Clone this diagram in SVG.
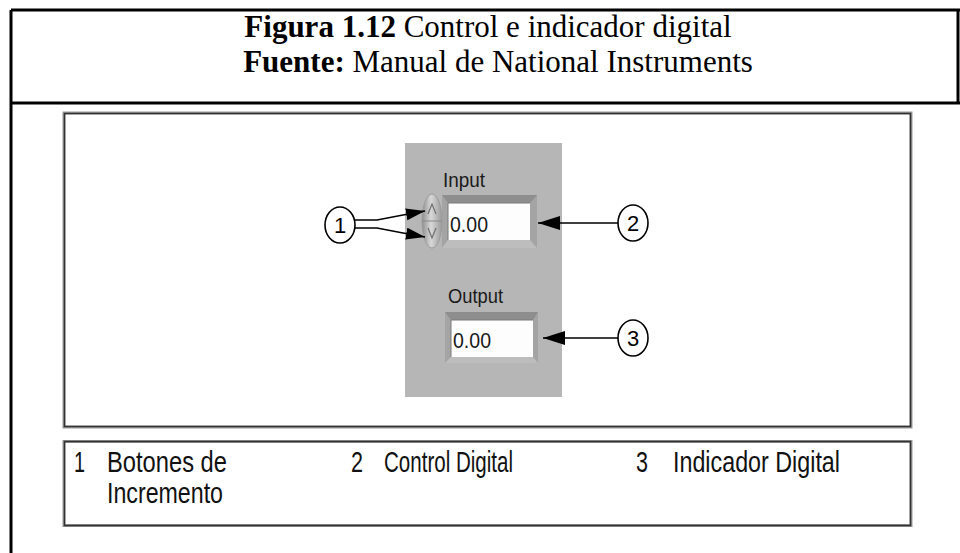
<svg xmlns="http://www.w3.org/2000/svg" width="960" height="553" viewBox="0 0 960 553">
  <style>
    .rule { stroke: #000; stroke-width: 3; fill: none; }
    .title { font-family: "Liberation Serif", "Times New Roman", serif; font-size: 31px; fill: #000; }
    .title .b { font-weight: bold; }
    .lv { font-family: "Liberation Sans", Arial, sans-serif; fill: #1a1a1a; }
    .legend { font-family: "Liberation Sans", Arial, sans-serif; font-size: 29px; fill: #111; }
    .callout { fill: #fff; stroke: #000; stroke-width: 1.6; }
    .callnum { font-family: "Liberation Sans", Arial, sans-serif; font-size: 22px; fill: #000; text-anchor: middle; }
    .conn { stroke: #000; stroke-width: 1.6; fill: none; }
  </style>
  <defs>
    <marker id="head" markerUnits="userSpaceOnUse" markerWidth="24" markerHeight="16" refX="22" refY="7" orient="auto">
      <path d="M0,0 L22,7 L0,14 z" fill="#000"/>
    </marker>
    <marker id="headSmall" markerUnits="userSpaceOnUse" markerWidth="22" markerHeight="14" refX="19" refY="6" orient="auto">
      <path d="M0,0 L19,6 L0,12 z" fill="#000"/>
    </marker>
    <linearGradient id="spin" x1="0" y1="0" x2="1" y2="0">
      <stop offset="0" stop-color="#8f8f8f"/>
      <stop offset="0.45" stop-color="#d8d8d8"/>
      <stop offset="1" stop-color="#9a9a9a"/>
    </linearGradient>
  </defs>

  <rect width="960" height="553" fill="#fff"/>

  <!-- table frame -->
  <g id="frame">
    <line class="rule" x1="11" y1="10" x2="960" y2="10"/>
    <line class="rule" x1="11" y1="10" x2="11" y2="553"/>
    <line class="rule" x1="958" y1="10" x2="958" y2="103"/>
    <line class="rule" x1="11" y1="103" x2="960" y2="103"/>
  </g>

  <!-- caption -->
  <g id="caption">
    <text class="title" x="488" y="37" text-anchor="middle"><tspan class="b">Figura 1.12</tspan> Control e indicador digital</text>
    <text class="title" x="498" y="72" text-anchor="middle"><tspan class="b">Fuente:</tspan> Manual de National Instruments</text>
  </g>

  <!-- figure box -->
  <g id="figure-box">
    <rect x="64" y="113" width="847" height="314" fill="#fff" stroke="#9a9a9a" stroke-width="3"/>
    <rect x="64.5" y="113.5" width="846" height="313" fill="none" stroke="#333" stroke-width="1.5"/>
  </g>

  <!-- front panel -->
  <g id="panel">
    <rect x="405" y="143" width="157" height="254" fill="#b6b6b6"/>
  </g>

  <!-- numeric control "Input" -->
  <g id="input-control">
    <text class="lv" x="443" y="187" font-size="19.5" textLength="42" lengthAdjust="spacingAndGlyphs">Input</text>
    <rect x="442" y="195" width="95" height="53" fill="#a4a4a4"/>
    <path d="M442,195 L537,195 L530,203 L448,203 z" fill="#8e8e8e"/>
    <path d="M442,248 L537,248 L530,240 L448,240 z" fill="#bdbdbd"/>
    <rect x="448" y="203" width="82" height="37" fill="#fdfdfd"/>
    <path d="M448,240 L448,203 L530,203" fill="none" stroke="#7a7a7a" stroke-width="1"/>
    <text class="lv" x="450" y="232" font-size="22" textLength="38" lengthAdjust="spacingAndGlyphs">0.00</text>
  </g>

  <!-- increment / decrement buttons -->
  <g id="spinner">
    <ellipse cx="432" cy="221" rx="10" ry="27" fill="url(#spin)" stroke="#9c9c9c" stroke-width="1"/>
    <line x1="422.5" y1="221" x2="441.5" y2="221" stroke="#8a8a8a" stroke-width="1"/>
    <path d="M428,214 L432,204 L436,214" fill="none" stroke="#6e6e6e" stroke-width="1.2"/>
    <path d="M428,228 L432,238 L436,228" fill="none" stroke="#6e6e6e" stroke-width="1.2"/>
  </g>

  <!-- numeric indicator "Output" -->
  <g id="output-indicator">
    <text class="lv" x="448" y="303" font-size="19.5" textLength="55" lengthAdjust="spacingAndGlyphs">Output</text>
    <rect x="445" y="312" width="93" height="51" fill="#a4a4a4"/>
    <path d="M445,312 L538,312 L533,320 L451,320 z" fill="#8e8e8e"/>
    <path d="M445,363 L538,363 L533,357 L451,357 z" fill="#bdbdbd"/>
    <rect x="451" y="320" width="82" height="37" fill="#fdfdfd"/>
    <path d="M451,357 L451,320 L533,320" fill="none" stroke="#7a7a7a" stroke-width="1"/>
    <text class="lv" x="453" y="348" font-size="22" textLength="38" lengthAdjust="spacingAndGlyphs">0.00</text>
  </g>

  <!-- callout connectors -->
  <g id="connectors">
    <polyline class="conn" points="355,220 377,220 403,215 425,211" marker-end="url(#headSmall)"/>
    <polyline class="conn" points="355,228 377,228 403,233 425,237" marker-end="url(#headSmall)"/>
    <line class="conn" x1="618" y1="223" x2="538" y2="223" marker-end="url(#head)"/>
    <line class="conn" x1="618" y1="338" x2="543" y2="338" marker-end="url(#head)"/>
  </g>

  <!-- callout bubbles -->
  <g id="callout-1">
    <ellipse class="callout" cx="340" cy="225" rx="15" ry="18"/>
    <text class="callnum" x="340" y="233">1</text>
  </g>
  <g id="callout-2">
    <ellipse class="callout" cx="633" cy="223" rx="15" ry="18"/>
    <text class="callnum" x="633" y="231">2</text>
  </g>
  <g id="callout-3">
    <ellipse class="callout" cx="633" cy="338" rx="15" ry="18"/>
    <text class="callnum" x="633" y="346">3</text>
  </g>

  <!-- legend -->
  <g id="legend">
    <rect x="64" y="441.5" width="847" height="84" fill="#fff" stroke="#9a9a9a" stroke-width="3"/>
    <rect x="64.5" y="441.5" width="846" height="84" fill="none" stroke="#333" stroke-width="1.5"/>
    <text class="legend" x="74" y="472" textLength="11" lengthAdjust="spacingAndGlyphs">1</text>
    <text class="legend" x="107" y="472" textLength="120" lengthAdjust="spacingAndGlyphs">Botones de</text>
    <text class="legend" x="107" y="503" textLength="116" lengthAdjust="spacingAndGlyphs">Incremento</text>
    <text class="legend" x="351" y="472" textLength="12" lengthAdjust="spacingAndGlyphs">2</text>
    <text class="legend" x="384" y="472" textLength="129" lengthAdjust="spacingAndGlyphs">Control Digital</text>
    <text class="legend" x="636" y="472" textLength="12" lengthAdjust="spacingAndGlyphs">3</text>
    <text class="legend" x="673" y="472" textLength="167" lengthAdjust="spacingAndGlyphs">Indicador Digital</text>
  </g>
</svg>
